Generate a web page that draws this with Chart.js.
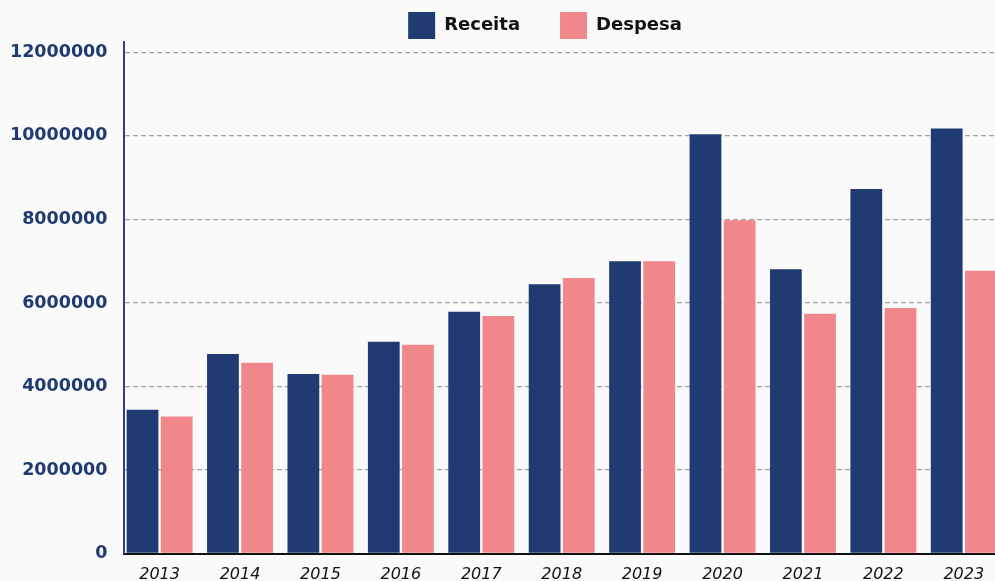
<!DOCTYPE html>
<html>
<head>
<meta charset="utf-8">
<script src="https://cdn.jsdelivr.net/npm/chart.js@4.4.1/dist/chart.umd.min.js"></script>
<style>
  html, body { margin: 0; padding: 0; background: #fafafa; overflow: hidden; }
  #wrap { width: 995px; height: 581px; overflow: hidden; position: relative; }
  canvas { display: block; }
</style>
</head>
<body>
<div id="wrap"><canvas id="c" width="1004" height="581"></canvas></div>
<script>
const categories = ["2013","2014","2015","2016","2017","2018","2019","2020","2021","2022","2023"];
const receita = [3440000, 4780000, 4300000, 5070000, 5790000, 6450000, 7000000, 10040000, 6810000, 8730000, 10180000];
const despesa = [3280000, 4570000, 4280000, 5000000, 5690000, 6600000, 7000000, 7980000, 5740000, 5880000, 6770000];
const yTicks = [0, 2000000, 4000000, 6000000, 8000000, 10000000, 12000000];
const seriesNames = ["Receita", "Despesa"];

const layoutTweak = {
  id: 'layoutTweak',
  afterLayout(chart) {
    const lg = chart.legend;
    const dx = 545 - (lg.left + lg.width / 2);
    lg.left += dx;
    lg.right += dx;
    lg.top = -28;
    lg.height = lg.bottom - lg.top;
    // category band starts slightly left of the y axis line, as in the reference
    const xs = chart.scales.x;
    const origLeft = xs.left;
    xs.left = origLeft - 5;
    xs.configure();
    xs.left = origLeft;
  }
};

new Chart(document.getElementById('c'), {
  type: 'bar',
  data: {
    labels: categories,
    datasets: [
      { label: seriesNames[0], data: receita, backgroundColor: '#1f3b72', borderWidth: 0 },
      { label: seriesNames[1], data: despesa, backgroundColor: '#f0878a', borderWidth: 0 }
    ]
  },
  options: {
    responsive: false,
    animation: false,
    layout: { padding: { left: -7, right: 0, top: 0, bottom: -15 } },
    datasets: { bar: { categoryPercentage: 0.85, barPercentage: 0.93 } },
    plugins: {
      tooltip: { enabled: false },
      legend: {
        position: 'top',
        maxHeight: 42,
        labels: {
          boxWidth: 27, boxHeight: 27, padding: 40,
          color: '#111',
          font: { family: 'DejaVu Sans', size: 18, weight: 'bold' }
        }
      }
    },
    scales: {
      x: {
        grid: { display: false, drawTicks: false },
        border: { color: '#111', width: 2 },
        ticks: { color: '#111', padding: 13, font: { family: 'DejaVu Sans', size: 16, style: 'italic', lineHeight: 1 } }
      },
      y: {
        min: 0, max: 12250000,
        afterBuildTicks(scale) { scale.ticks = yTicks.map(v => ({ value: v })); },
        grid: { color: '#a3a3a3', lineWidth: 1.3, drawTicks: false },
        border: { color: '#3a3a8c', width: 2, dash: [5, 3] },
        ticks: {
          color: '#1f3b72', padding: 17,
          font: { family: 'DejaVu Sans', size: 17.5, weight: 'bold' },
          callback: v => String(v)
        }
      }
    }
  },
  plugins: [layoutTweak]
});
</script>
</body>
</html>
